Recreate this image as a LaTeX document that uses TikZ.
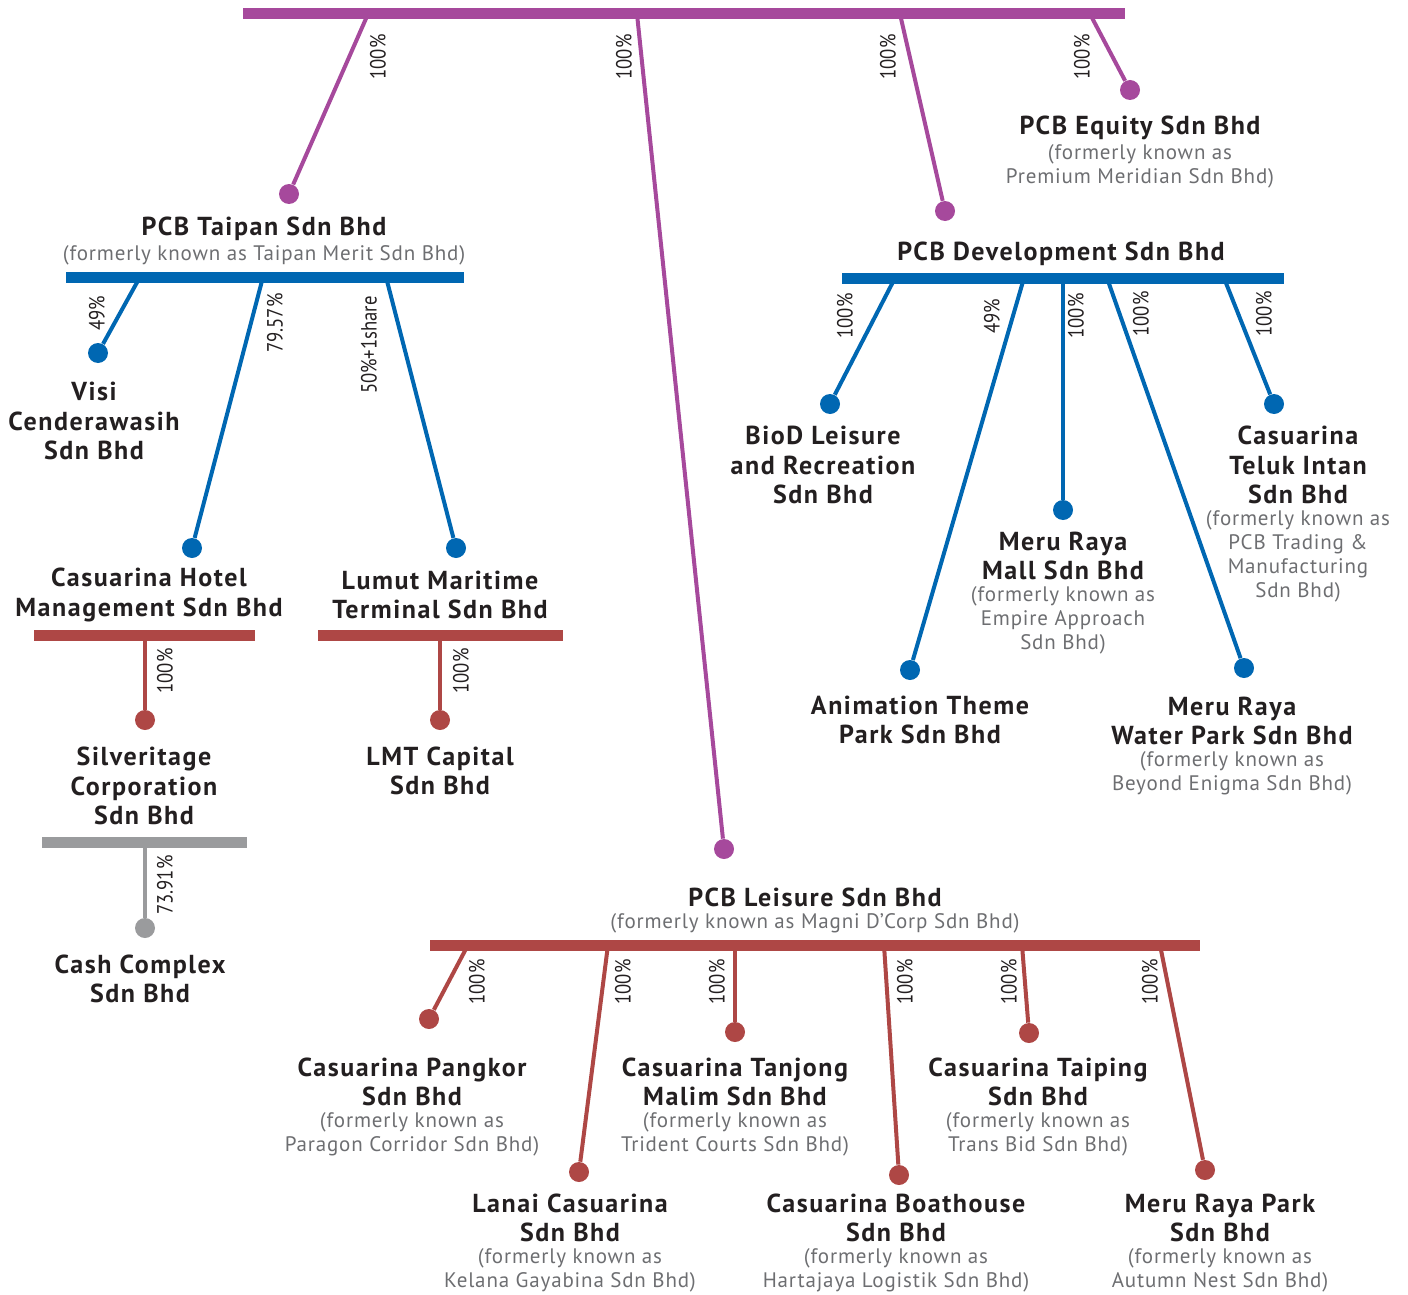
\documentclass[tikz,border=0pt]{standalone}
\usepackage{fontspec}
\setmainfont{PT Sans}
\newfontfamily\namefont[LetterSpace=6]{PT Sans Bold}
\newfontfamily\notefont[LetterSpace=4]{PT Sans}
\newfontfamily\pctfont[FakeStretch=0.85]{PT Sans}
\usepackage{tikz}
\definecolor{pcbpurple}{RGB}{166,73,156}
\definecolor{pcbblue}{RGB}{0,103,178}
\definecolor{pcbred}{RGB}{174,71,69}
\definecolor{pcbgrey}{RGB}{154,155,157}
\definecolor{pcbtext}{RGB}{35,31,32}
\definecolor{pcbnote}{RGB}{109,110,113}

\tikzset{
  holdbar/.style={line width=5.5pt},
  holdlink/.style={line width=2pt},
  holddot/.style={circle, inner sep=0pt, minimum size=10pt},
  coname/.style={align=center, text=pcbtext, inner sep=0pt, yshift=-1pt,
    font=\namefont\fontsize{13}{14.75}\selectfont},
  conote/.style={align=center, text=pcbnote, inner sep=0pt, yshift=-1.2pt,
    font=\notefont\fontsize{10.5}{12}\selectfont},
  pctlabel/.style={rotate=90, text=pcbtext, inner sep=0pt,
    font=\pctfont\fontsize{11}{12}\selectfont}
}

\begin{document}
\begin{tikzpicture}[x=0.5pt, y=-0.5pt]
  \useasboundingbox (0,0) rectangle (1408,1295);

  % Top holding bar
  \draw[holdbar, pcbpurple] (243,14) -- (1125,14);
  \coordinate (top1) at (368,14);
  \coordinate (top2) at (637,14);
  \coordinate (top3) at (900,14);
  \coordinate (top4) at (1090,14);

  % Dots of the top level
  \node[holddot, fill=pcbpurple] (taipandot) at (289,194) {};
  \node[holddot, fill=pcbpurple] (leisuredot) at (724,849) {};
  \node[holddot, fill=pcbpurple] (devdot) at (945,211) {};
  \node[holddot, fill=pcbpurple] (equitydot) at (1130,90) {};

  \draw[holdlink, pcbpurple] (top1) -- (taipandot);
  \draw[holdlink, pcbpurple] (top2) -- (leisuredot);
  \draw[holdlink, pcbpurple] (top3) -- (devdot);
  \draw[holdlink, pcbpurple] (top4) -- (equitydot);

  \node[pctlabel] (ptop1) at (378,57) {100\%};
  \node[pctlabel] (ptop2) at (624,57) {100\%};
  \node[pctlabel] (ptop3) at (888,57) {100\%};
  \node[pctlabel] (ptop4) at (1082,57) {100\%};

  % PCB Equity
  \node[coname] (equity) at (1140,126) {PCB Equity Sdn Bhd};
  \node[conote] (equitynote) at (1140,164) {(formerly known as\\Premium Meridian Sdn Bhd)};

  % PCB Taipan
  \node[coname] (taipan) at (264,227) {PCB Taipan Sdn Bhd};
  \node[conote] (taipannote) at (264,253) {(formerly known as Taipan Merit Sdn Bhd)};
  \draw[holdbar, pcbblue] (66,277) -- (464,277);
  \coordinate (tai1) at (140,277);
  \coordinate (tai2) at (263,277);
  \coordinate (tai3) at (386,277);

  \node[holddot, fill=pcbblue] (visidot) at (98,353) {};
  \node[holddot, fill=pcbblue] (hoteldot) at (192,548) {};
  \node[holddot, fill=pcbblue] (lumutdot) at (456,548) {};
  \draw[holdlink, pcbblue] (tai1) -- (visidot);
  \draw[holdlink, pcbblue] (tai2) -- (hoteldot);
  \draw[holdlink, pcbblue] (tai3) -- (lumutdot);
  \node[pctlabel] (ptai1) at (97,313) {49\%};
  \node[pctlabel] (ptai2) at (275,323) {79.57\%};
  \node[pctlabel] (ptai3) at (369,345) {50\%+1share};

  \node[coname] (visi) at (94,419) {Visi\\Cenderawasih\\Sdn Bhd};
  \node[coname] (hotel) at (149,593) {Casuarina Hotel\\Management Sdn Bhd};
  \node[coname] (lumut) at (440,593) {Lumut Maritime\\Terminal Sdn Bhd};

  % Casuarina Hotel Management
  \draw[holdbar, pcbred] (34,635) -- (255,635);
  \coordinate (hot1) at (145,635);
  \node[holddot, fill=pcbred] (silverdot) at (145,720) {};
  \draw[holdlink, pcbred] (hot1) -- (silverdot);
  \node[pctlabel] (phot1) at (165,671) {100\%};
  \node[coname] (silver) at (144,784) {Silveritage\\Corporation\\Sdn Bhd};

  % Lumut Maritime Terminal
  \draw[holdbar, pcbred] (318,635) -- (563,635);
  \coordinate (lum1) at (440,635);
  \node[holddot, fill=pcbred] (lmtdot) at (440,720) {};
  \draw[holdlink, pcbred] (lum1) -- (lmtdot);
  \node[pctlabel] (plum1) at (461,671) {100\%};
  \node[coname] (lmt) at (440,769) {LMT Capital\\Sdn Bhd};

  % Silveritage Corporation
  \draw[holdbar, pcbgrey] (42,842) -- (247,842);
  \coordinate (sil1) at (145,842);
  \node[holddot, fill=pcbgrey] (cashdot) at (145,928) {};
  \draw[holdlink, pcbgrey] (sil1) -- (cashdot);
  \node[pctlabel] (psil1) at (165,885) {73.91\%};
  \node[coname] (cash) at (140,977) {Cash Complex\\Sdn Bhd};

  % PCB Development
  \node[coname] (dev) at (1061,252) {PCB Development Sdn Bhd};
  \draw[holdbar, pcbblue] (842,278) -- (1284,278);
  \coordinate (dev1) at (895,278);
  \coordinate (dev2) at (1024,278);
  \coordinate (dev3) at (1063,278);
  \coordinate (dev4) at (1107,278);
  \coordinate (dev5) at (1224,278);

  \node[holddot, fill=pcbblue] (bioddot) at (830,404) {};
  \node[holddot, fill=pcbblue] (animdot) at (910,670) {};
  \node[holddot, fill=pcbblue] (malldot) at (1063,510) {};
  \node[holddot, fill=pcbblue] (waterdot) at (1244,668) {};
  \node[holddot, fill=pcbblue] (telukdot) at (1274,404) {};
  \draw[holdlink, pcbblue] (dev1) -- (bioddot);
  \draw[holdlink, pcbblue] (dev2) -- (animdot);
  \draw[holdlink, pcbblue] (dev3) -- (malldot);
  \draw[holdlink, pcbblue] (dev4) -- (waterdot);
  \draw[holdlink, pcbblue] (dev5) -- (telukdot);
  \node[pctlabel] (pdev1) at (845,316) {100\%};
  \node[pctlabel] (pdev2) at (992,316) {49\%};
  \node[pctlabel] (pdev3) at (1076,316) {100\%};
  \node[pctlabel] (pdev4) at (1141,314) {100\%};
  \node[pctlabel] (pdev5) at (1264,314) {100\%};

  \node[coname] (biod) at (823,463) {BioD Leisure\\and Recreation\\Sdn Bhd};
  \node[coname] (teluk) at (1298,463) {Casuarina\\Teluk Intan\\Sdn Bhd};
  \node[conote] (teluknote) at (1298,554) {(formerly known as\\PCB Trading \&\\Manufacturing\\Sdn Bhd)};
  \node[coname] (mall) at (1063,554) {Meru Raya\\Mall Sdn Bhd};
  \node[conote] (mallnote) at (1063,618) {(formerly known as\\Empire Approach\\Sdn Bhd)};
  \node[coname] (anim) at (920,718) {Animation Theme\\Park Sdn Bhd};
  \node[coname] (water) at (1232,719) {Meru Raya\\Water Park Sdn Bhd};
  \node[conote] (waternote) at (1232,771) {(formerly known as\\Beyond Enigma Sdn Bhd)};

  % PCB Leisure
  \node[coname] (leisure) at (815,895) {PCB Leisure Sdn Bhd};
  \node[conote] (leisurenote) at (815,921) {(formerly known as Magni D’Corp Sdn Bhd)};
  \draw[holdbar, pcbred] (430,945) -- (1200,945);
  \coordinate (lei1) at (468,945);
  \coordinate (lei2) at (608,945);
  \coordinate (lei3) at (735,945);
  \coordinate (lei4) at (884,945);
  \coordinate (lei5) at (1022,945);
  \coordinate (lei6) at (1160,945);

  \node[holddot, fill=pcbred] (pangkordot) at (429,1019) {};
  \node[holddot, fill=pcbred] (lanaidot) at (579,1172) {};
  \node[holddot, fill=pcbred] (tanjongdot) at (735,1032) {};
  \node[holddot, fill=pcbred] (boatdot) at (899,1175) {};
  \node[holddot, fill=pcbred] (taipingdot) at (1029,1033) {};
  \node[holddot, fill=pcbred] (parkdot) at (1205,1170) {};
  \draw[holdlink, pcbred] (lei1) -- (pangkordot);
  \draw[holdlink, pcbred] (lei2) -- (lanaidot);
  \draw[holdlink, pcbred] (lei3) -- (tanjongdot);
  \draw[holdlink, pcbred] (lei4) -- (boatdot);
  \draw[holdlink, pcbred] (lei5) -- (taipingdot);
  \draw[holdlink, pcbred] (lei6) -- (parkdot);
  \node[pctlabel] (plei1) at (477,982) {100\%};
  \node[pctlabel] (plei2) at (623,982) {100\%};
  \node[pctlabel] (plei3) at (717,982) {100\%};
  \node[pctlabel] (plei4) at (905,982) {100\%};
  \node[pctlabel] (plei5) at (1009,982) {100\%};
  \node[pctlabel] (plei6) at (1150,982) {100\%};

  \node[coname] (pangkor) at (412,1080) {Casuarina Pangkor\\Sdn Bhd};
  \node[conote] (pangkornote) at (412,1132) {(formerly known as\\Paragon Corridor Sdn Bhd)};
  \node[coname] (tanjong) at (735,1080) {Casuarina Tanjong\\Malim Sdn Bhd};
  \node[conote] (tanjongnote) at (735,1132) {(formerly known as\\Trident Courts Sdn Bhd)};
  \node[coname] (taiping) at (1038,1080) {Casuarina Taiping\\Sdn Bhd};
  \node[conote] (taipingnote) at (1038,1132) {(formerly known as\\Trans Bid Sdn Bhd)};
  \node[coname] (lanai) at (570,1216) {Lanai Casuarina\\Sdn Bhd};
  \node[conote] (lanainote) at (570,1268) {(formerly known as\\Kelana Gayabina Sdn Bhd)};
  \node[coname] (boat) at (896,1216) {Casuarina Boathouse\\Sdn Bhd};
  \node[conote] (boatnote) at (896,1268) {(formerly known as\\Hartajaya Logistik Sdn Bhd)};
  \node[coname] (park) at (1220,1216) {Meru Raya Park\\Sdn Bhd};
  \node[conote] (parknote) at (1220,1268) {(formerly known as\\Autumn Nest Sdn Bhd)};
\end{tikzpicture}
\end{document}
